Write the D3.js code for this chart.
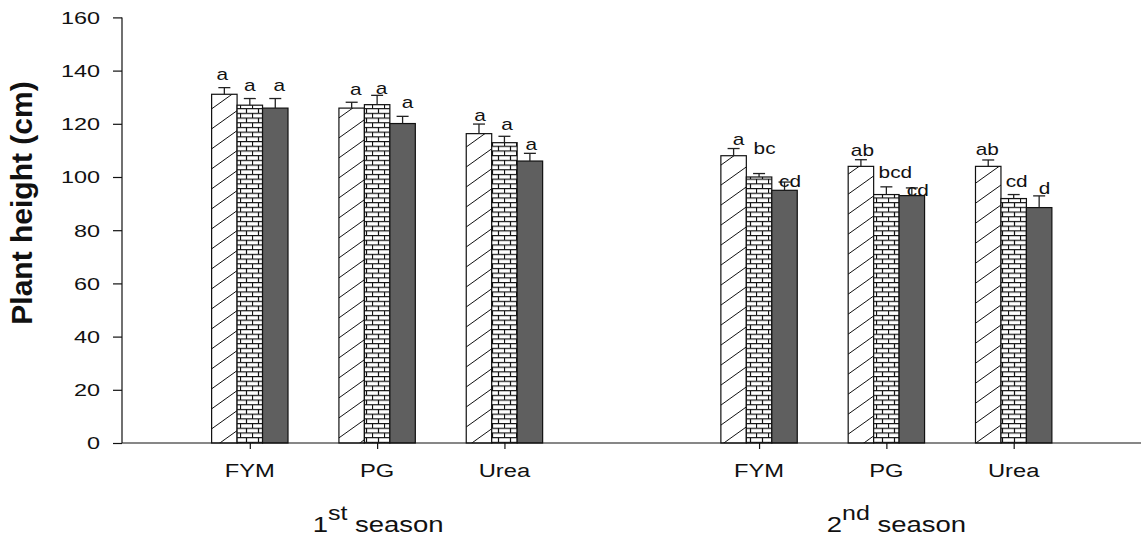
<!DOCTYPE html>
<html>
<head>
<meta charset="utf-8">
<script src="https://cdn.jsdelivr.net/npm/d3@7"></script>
<style>
  html, body { margin: 0; padding: 0; background: #fff; }
  svg { display: block; }
  text { font-family: "Liberation Sans", Arial, Helvetica, sans-serif; fill: #111; }
</style>
</head>
<body>
<svg id="chart" width="1145" height="535"></svg>
<script>
// Plant height (cm) by fertiliser source in two seasons, three sub-treatments each
const seasonNumbers = ["1", "2"];
const seasonSuffixes = ["st", "nd"];
const treatments = ["FYM", "PG", "Urea"];

// order: season 1 FYM, PG, Urea, season 2 FYM, PG, Urea
const hatchedMeans = [131.1, 125.9, 116.3, 108.0, 104.0, 104.0];
const brickMeans   = [127.0, 127.2, 112.9, 100.0,  93.4,  91.9];
const solidMeans   = [125.9, 120.1, 106.0,  95.0,  93.0,  88.5];

const hatchedSE = [2.5, 2.2, 3.6, 2.7, 2.5, 2.4];
const brickSE   = [2.5, 3.5, 2.4, 1.3, 2.9, 1.5];
const solidSE   = [3.6, 2.7, 2.9, 3.1, 2.9, 4.4];

const hatchedLetters = ["a", "a", "a", "a", "ab", "ab"];
const brickLetters   = ["a", "a", "a", "bc", "bcd", "cd"];
const solidLetters   = ["a", "a", "a", "cd", "cd", "d"];

const yTicks = [0, 20, 40, 60, 80, 100, 120, 140, 160];

// hand placement of the significance letters relative to each error-bar cap (px)
const letterNudges = [
  [[-2, -7.3], [0, -7.6], [4, -7.6]],
  [[4, -7], [4.5, -1.7], [5, -8.7]],
  [[1, -3], [2.5, -6.7], [1.5, -3.7]],
  [[5, -3.3], [5.5, -19.3], [5.5, 5]],
  [[1.5, -3.6], [9, -8.4], [6, 8]],
  [[-1, -4.7], [3, -7.6], [5.5, -1.4]]
];

const svg = d3.select("#chart");
const stretch = 1.3;   // the chart's lettering is set wide

// ---- fill patterns ----
const defs = svg.append("defs");
const hatch = defs.append("pattern")
  .attr("id", "hatch").attr("patternUnits", "userSpaceOnUse")
  .attr("width", 28).attr("height", 20);
hatch.append("rect").attr("width", 28).attr("height", 20).attr("fill", "#fff");
hatch.append("path").attr("d", "M-1,20.7 L29,-0.7 M-29,20.7 L1,-0.7 M27,20.7 L57,-0.7")
  .attr("stroke", "#111").attr("stroke-width", 1);

const brick = defs.append("pattern")
  .attr("id", "brick").attr("patternUnits", "userSpaceOnUse")
  .attr("width", 12).attr("height", 9.4);
brick.append("rect").attr("width", 12).attr("height", 9.4).attr("fill", "#fff");
brick.append("path")
  .attr("d", "M0,0.5 H12 M0,5.2 H12 M0.5,0.5 V5.2 M6.5,5.2 V9.4")
  .attr("stroke", "#111").attr("stroke-width", 1.2).attr("fill", "none");

// ---- scales ----
const x = d3.scaleLinear().domain([0, 8]).range([122.5, 1141]);
const y = d3.scaleLinear().domain([0, 160]).range([443, 17.4]);
const barW = x(0.2) - x(0);

const groups = [];
seasonNumbers.forEach((s, si) => {
  treatments.forEach((t, ti) => {
    const gi = si * 3 + ti;
    groups.push({ season: si, treatment: t, slot: si * 4 + ti + 1, index: gi });
  });
});

const seriesDefs = [
  { means: hatchedMeans, se: hatchedSE, letters: hatchedLetters, fill: "url(#hatch)" },
  { means: brickMeans, se: brickSE, letters: brickLetters, fill: "url(#brick)" },
  { means: solidMeans, se: solidSE, letters: solidLetters, fill: "#5f5f5f" }
];

const bars = [];
groups.forEach(g => {
  seriesDefs.forEach((sd, k) => {
    bars.push({
      group: g, k,
      value: sd.means[g.index], se: sd.se[g.index],
      letter: sd.letters[g.index], fill: sd.fill,
      nudge: letterNudges[g.index][k],
      x0: x(g.slot - 0.3 + 0.2 * k)
    });
  });
});

// ---- bars ----
svg.append("g").selectAll("rect").data(bars).join("rect")
  .attr("x", d => d.x0)
  .attr("y", d => y(d.value))
  .attr("width", barW)
  .attr("height", d => y(0) - y(d.value))
  .attr("fill", d => d.fill)
  .attr("stroke", "#111")
  .attr("stroke-width", 1.2);

// ---- error bars (upper half) ----
const eb = svg.append("g").attr("stroke", "#222").attr("stroke-width", 1.3);
bars.forEach(d => {
  const cx = d.x0 + barW / 2;
  eb.append("line").attr("x1", cx).attr("x2", cx)
    .attr("y1", y(d.value)).attr("y2", y(d.value + d.se));
  eb.append("line").attr("x1", cx - 6).attr("x2", cx + 6)
    .attr("y1", y(d.value + d.se)).attr("y2", y(d.value + d.se));
});

// ---- significance letters ----
svg.append("g").selectAll("text").data(bars).join("text")
  .attr("transform", d => {
    const cx = d.x0 + barW / 2 + d.nudge[0];
    const cy = y(d.value + d.se) + d.nudge[1];
    return `translate(${cx},${cy}) scale(${stretch},1)`;
  })
  .attr("text-anchor", "middle")
  .style("font-size", "16px")
  .text(d => d.letter);

// ---- y axis ----
const yAxis = svg.append("g").attr("transform", "translate(122,0)")
  .call(d3.axisLeft(y).tickValues(yTicks).tickSize(9).tickPadding(0).tickFormat(d3.format("d")));
yAxis.select(".domain").attr("stroke", "#111").attr("stroke-width", 1.2).attr("d", `M0,${y(160)}V${y(0)}`);
yAxis.selectAll(".tick line").attr("stroke", "#111").attr("stroke-width", 1.2);
yAxis.selectAll(".tick text")
  .attr("x", null).attr("dy", null)
  .attr("transform", `translate(-22,5.9) scale(1.42,1)`)
  .attr("text-anchor", "end")
  .style("font-size", "16.5px")
  .style("font-family", "'Liberation Sans', Arial, sans-serif")
  .attr("fill", "#111");

// ---- x axis ----
const xAxis = svg.append("g").attr("transform", `translate(0,${y(0)})`)
  .call(d3.axisBottom(x).tickValues(groups.map(g => g.slot)).tickSize(6).tickFormat(""));
xAxis.select(".domain").attr("stroke", "#111").attr("stroke-width", 1.2).attr("d", `M${x(0) - 0.5},0H${x(8)}`);
xAxis.selectAll(".tick line").attr("stroke", "#111").attr("stroke-width", 1.2);

svg.append("g").selectAll("text").data(groups).join("text")
  .attr("transform", g => `translate(${x(g.slot)},477) scale(1.32,1)`)
  .attr("text-anchor", "middle")
  .style("font-size", "18px")
  .text(g => g.treatment);

// ---- season titles ----
const seasonDx = [1, 10];
seasonNumbers.forEach((n, si) => {
  const t = svg.append("text")
    .attr("transform", `translate(${x(si * 4 + 2) + seasonDx[si]},532) scale(1.25,1)`)
    .attr("text-anchor", "middle")
    .style("font-size", "22px");
  t.append("tspan").text(n);
  t.append("tspan").attr("dy", -12).style("font-size", "20px").text(seasonSuffixes[si]);
  t.append("tspan").attr("dy", 12).text(" season");
});

// ---- y axis title ----
svg.append("text")
  .attr("transform", "translate(32,203) rotate(-90)")
  .attr("text-anchor", "middle")
  .style("font-size", "30px")
  .style("font-weight", "bold")
  .text("Plant height (cm)");
</script>
</body>
</html>
